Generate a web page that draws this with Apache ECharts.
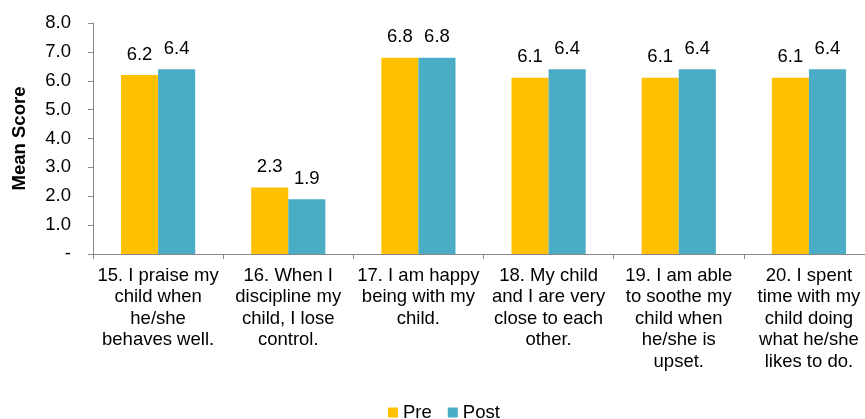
<!DOCTYPE html>
<html>
<head>
<meta charset="utf-8">
<script src="https://cdn.jsdelivr.net/npm/echarts@6/dist/echarts.min.js"></script>
<style>
  html, body { margin: 0; padding: 0; background: #fff; }
  #chart { width: 865px; height: 419px; }
</style>
</head>
<body>
<div id="chart"></div>
<script>
// Survey items (wrapped as they appear under the axis)
const categories = [
  "15. I praise my\nchild when\nhe/she\nbehaves well.",
  "16. When I\ndiscipline my\nchild, I lose\ncontrol.",
  "17. I am happy\nbeing with my\nchild.",
  "18. My child\nand I are very\nclose to each\nother.",
  "19. I am able\nto soothe my\nchild when\nhe/she is\nupset.",
  "20. I spent\ntime with my\nchild doing\nwhat he/she\nlikes to do."
];
const preScores = [6.2, 2.3, 6.8, 6.1, 6.1, 6.1];
const postScores = [6.4, 1.9, 6.8, 6.4, 6.4, 6.4];
const yTicks = [0, 1, 2, 3, 4, 5, 6, 7, 8];

const FONT = "'Liberation Sans', Arial, sans-serif";
const FS = 18.5;

const chart = echarts.init(document.getElementById('chart'), null, { renderer: 'canvas' });

const valueLabel = {
  show: true,
  position: 'top',
  distance: 11,
  color: '#000',
  fontFamily: FONT,
  fontSize: FS,
  formatter: p => p.value.toFixed(1)
};

chart.setOption({
  animation: false,
  textStyle: { fontFamily: FONT },
  grid: {
    left: 93, right: -9, top: 23, bottom: 165,
    containLabel: false,
    outerBoundsMode: 'none'
  },
  legend: {
    data: ['Pre', 'Post'],
    top: 403,
    left: 388,
    padding: 0,
    itemWidth: 10,
    itemHeight: 10,
    itemGap: 16,
    icon: 'rect',
    textStyle: { fontFamily: FONT, fontSize: FS, color: '#000' }
  },
  xAxis: {
    type: 'category',
    data: categories,
    axisLine: { lineStyle: { color: '#888', width: 1 } },
    axisTick: { show: true, length: 5, lineStyle: { color: '#888' } },
    axisLabel: {
      interval: 0,
      color: '#000',
      fontFamily: FONT,
      fontSize: FS,
      lineHeight: 21.5,
      margin: 11
    }
  },
  yAxis: {
    type: 'value',
    min: yTicks[0],
    max: yTicks[yTicks.length - 1],
    interval: 1,
    name: 'Mean Score',
    nameLocation: 'middle',
    nameRotate: 90,
    nameGap: 64,
    nameTextStyle: { fontFamily: FONT, fontSize: FS, fontWeight: 'bold', color: '#000' },
    axisLine: { show: true, lineStyle: { color: '#888', width: 1 } },
    axisTick: { show: true, length: 5, lineStyle: { color: '#888' } },
    splitLine: { show: false },
    axisLabel: {
      color: '#000',
      fontFamily: FONT,
      fontSize: FS,
      margin: 22,
      formatter: v => (v === 0 ? '-' : v.toFixed(1))
    }
  },
  series: [
    {
      name: 'Pre',
      type: 'bar',
      data: preScores,
      barGap: '0%',
      barCategoryGap: '43%',
      itemStyle: { color: '#FFC000' },
      label: valueLabel
    },
    {
      name: 'Post',
      type: 'bar',
      data: postScores,
      itemStyle: { color: '#4BACC6' },
      label: valueLabel
    }
  ]
});
</script>
</body>
</html>
